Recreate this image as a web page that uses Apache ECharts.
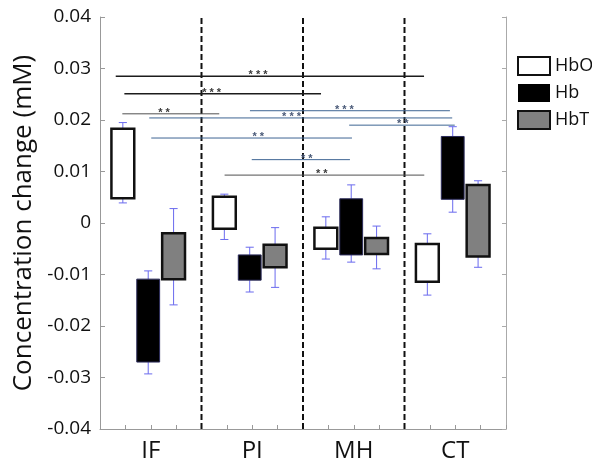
<!DOCTYPE html>
<html>
<head>
<meta charset="utf-8">
<script src="https://cdn.jsdelivr.net/npm/echarts@6/dist/echarts.min.js"></script>
<style>html,body{margin:0;padding:0;background:#fff;}#c{width:592px;height:464px;}</style>
</head>
<body>
<div id="c"></div>
<script>
// ---------- data ----------
const categories = ['IF', 'PI', 'MH', 'CT'];
const seriesNames = ['HbO', 'Hb', 'HbT'];

const hboTop     = [0.0183, 0.0051, -0.0009, -0.0041];
const hboBottom  = [0.0048, -0.0011, -0.0050, -0.0114];
const hboErrHigh = [0.0195, 0.0056, 0.0012, -0.0021];
const hboErrLow  = [0.0039, -0.0032, -0.0070, -0.0140];

const hbTop      = [-0.0109, -0.0062, 0.0047, 0.0168];
const hbBottom   = [-0.0270, -0.0111, -0.0062, 0.0046];
const hbErrHigh  = [-0.0093, -0.0047, 0.0074, 0.0187];
const hbErrLow   = [-0.0293, -0.0134, -0.0076, 0.0021];

const hbtTop     = [-0.0020, -0.0042, -0.0029, 0.0074];
const hbtBottom  = [-0.0109, -0.0086, -0.0060, -0.0065];
const hbtErrHigh = [0.0028, -0.0009, -0.0006, 0.0082];
const hbtErrLow  = [-0.0159, -0.0125, -0.0089, -0.0086];

// significance brackets (x in slot units, 4 slots per category)
const sigFrom   = [0.62, 0.96, 0.88, 5.91, 1.94, 9.82, 2.02, 5.98, 4.91];
const sigTo     = [12.77, 8.71, 4.70, 13.79, 13.88, 13.98, 9.93, 9.85, 12.78];
const sigY      = [0.0285, 0.0251, 0.0212, 0.0218, 0.0204, 0.0190, 0.0165, 0.0123, 0.0093];
const sigStars  = ['***', '***', '**', '***', '***', '**', '**', '**', '**'];
const sigLabelX = [6.23, 4.40, 2.52, 9.63, 7.55, 11.93, 6.24, 8.15, 8.74];
const sigKind   = ['k', 'k', 'g', 'b', 'b', 'b', 'b', 'b', 'g'];

// ---------- styles ----------
const FONT = 'Open Sans';
const SLOTS = categories.length * 4;
const BOX_OFFSET = -0.1;
const BOX_W = 0.9;
const CAP_W = 0.32;
const ERR_COLOR = '#6a6aee';
const sigLineColor = { k: '#1c1c1c', g: '#505050', b: '#3e6593' };
const sigTextColor = { k: '#3a3a3a', g: '#3a3a3a', b: '#4a5a78' };
const boxStyles = [
  { fill: '#ffffff', stroke: '#111111', lw: 2.5 },
  { fill: '#000000', stroke: '#2a2a5a', lw: 1 },
  { fill: '#808080', stroke: '#111111', lw: 2.5 }
];

const boxData = [
  [hboBottom, hboTop, hboErrLow, hboErrHigh],
  [hbBottom, hbTop, hbErrLow, hbErrHigh],
  [hbtBottom, hbtTop, hbtErrLow, hbtErrHigh]
];

function boxRender(style) {
  return function (params, api) {
    const x = api.value(0);
    const pLo = api.coord([x, api.value(1)]);
    const pHi = api.coord([x, api.value(2)]);
    const pELo = api.coord([x, api.value(3)]);
    const pEHi = api.coord([x, api.value(4)]);
    const w = api.size([BOX_W, 0])[0];
    const cw = api.size([CAP_W, 0])[0];
    const cx = pLo[0];
    const errStyle = { stroke: ERR_COLOR, lineWidth: 1 };
    return {
      type: 'group',
      children: [
        { type: 'line', shape: { x1: cx, y1: pHi[1], x2: cx, y2: pEHi[1] }, style: errStyle },
        { type: 'line', shape: { x1: cx - cw / 2, y1: pEHi[1], x2: cx + cw / 2, y2: pEHi[1] }, style: errStyle },
        { type: 'line', shape: { x1: cx, y1: pLo[1], x2: cx, y2: pELo[1] }, style: errStyle },
        { type: 'line', shape: { x1: cx - cw / 2, y1: pELo[1], x2: cx + cw / 2, y2: pELo[1] }, style: errStyle },
        { type: 'rect', shape: { x: cx - w / 2, y: pHi[1], width: w, height: pLo[1] - pHi[1] },
          style: { fill: style.fill, stroke: style.stroke, lineWidth: style.lw } }
      ]
    };
  };
}

const series = seriesNames.map((name, k) => ({
  name: name,
  type: 'custom',
  renderItem: boxRender(boxStyles[k]),
  itemStyle: { color: boxStyles[k].fill, borderColor: boxStyles[k].stroke, borderWidth: 2 },
  encode: { x: 0, y: [1, 2, 3, 4] },
  data: categories.map((c, i) => [i * 4 + k + 1 + BOX_OFFSET,
    boxData[k][0][i], boxData[k][1][i], boxData[k][2][i], boxData[k][3][i]]),
  z: 3
}));

// group dividers
series.push({
  name: 'dividers',
  type: 'custom',
  silent: true,
  renderItem: function (params, api) {
    const x = api.value(0);
    const a = api.coord([x, -0.04]);
    const b = api.coord([x, 0.04]);
    return { type: 'line', shape: { x1: a[0], y1: a[1], x2: b[0], y2: b[1] },
      style: { stroke: '#111', lineWidth: 2, lineDash: [6, 3] } };
  },
  encode: { x: 0, y: 1 },
  data: categories.slice(1).map((c, i) => [(i + 1) * 4, 0]),
  z: 2
});

// significance brackets
series.push({
  name: 'sig',
  type: 'custom',
  silent: true,
  renderItem: function (params, api) {
    const i = params.dataIndex;
    const a = api.coord([api.value(0), api.value(2)]);
    const b = api.coord([api.value(1), api.value(2)]);
    const t = api.coord([api.value(3), api.value(2)]);
    const kind = sigKind[i];
    return {
      type: 'group',
      children: [
        { type: 'line', shape: { x1: a[0], y1: a[1], x2: b[0], y2: b[1] },
          style: { stroke: sigLineColor[kind], lineWidth: kind === 'k' ? 1.3 : 1 } },
        { type: 'text', x: t[0], y: t[1] - 1,
          style: { text: sigStars[i].split('').join(' '), fill: sigTextColor[kind],
            font: 'bold 11px "Liberation Sans"', align: 'center', verticalAlign: 'middle' } }
      ]
    };
  },
  encode: { x: [0, 1, 3], y: 2 },
  data: sigFrom.map((f, i) => [f, sigTo[i], sigY[i], sigLabelX[i]]),
  z: 4
});

const option = {
  animation: false,
  backgroundColor: '#fff',
  grid: { left: 100, right: 86, top: 17, bottom: 35 },
  legend: {
    orient: 'vertical',
    left: 512,
    top: 51,
    itemWidth: 32,
    itemHeight: 18,
    itemGap: 8,
    icon: 'rect',
    textStyle: { fontSize: 18, fontFamily: FONT, color: '#111', lineHeight: 18 },
    data: seriesNames.map((n, k) => ({
      name: n,
      itemStyle: { color: boxStyles[k].fill, borderColor: '#111', borderWidth: k === 1 ? 0 : 2 }
    }))
  },
  xAxis: {
    type: 'value',
    min: 0,
    max: SLOTS,
    interval: 1,
    splitLine: { show: false },
    axisLine: { onZero: false, lineStyle: { color: '#999', width: 1 } },
    axisTick: { inside: true, length: 4, lineStyle: { color: '#999' } },
    axisLabel: {
      fontSize: 24, fontFamily: FONT, color: '#111', margin: 10,
      showMinLabel: true, showMaxLabel: true,
      formatter: function (v) {
        const i = (v - 2) / 4;
        return Number.isInteger(i) && categories[i] ? categories[i] : '';
      }
    }
  },
  yAxis: [{
    type: 'value',
    min: -0.04,
    max: 0.04,
    interval: 0.01,
    name: 'Concentration change (mM)',
    nameLocation: 'middle',
    nameGap: 52,
    nameTextStyle: { fontSize: 26, fontFamily: FONT, color: '#111' },
    splitLine: { show: false },
    axisLine: { show: true, onZero: false, lineStyle: { color: '#999', width: 1 } },
    axisTick: { show: true, inside: true, length: 5, lineStyle: { color: '#999' } },
    axisLabel: {
      fontSize: 19, fontFamily: FONT, color: '#111', margin: 9,
      formatter: function (v) { return String(Number(v.toFixed(2))); }
    }
  }, {
    type: 'value',
    position: 'right',
    min: -0.04,
    max: 0.04,
    interval: 0.01,
    splitLine: { show: false },
    axisLine: { show: true, onZero: false, lineStyle: { color: '#aaa', width: 1 } },
    axisTick: { show: true, inside: true, length: 4, lineStyle: { color: '#aaa' } },
    axisLabel: { show: false }
  }],
  series: series
};

const chart = echarts.init(document.getElementById('c'), null, { renderer: 'canvas' });
chart.setOption(option);
</script>
</body>
</html>
